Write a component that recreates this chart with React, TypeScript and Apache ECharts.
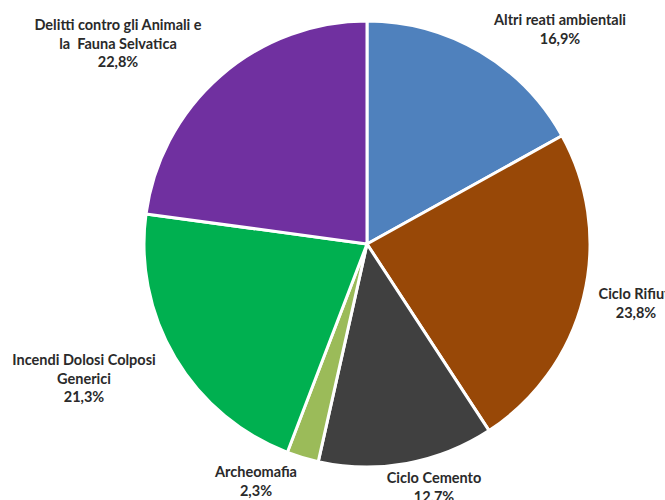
import React, { useEffect, useRef } from "react";
import * as echarts from "echarts";

const categories = [
  "Altri reati ambientali",
  "Ciclo Rifiuti",
  "Ciclo Cemento",
  "Archeomafia",
  "Incendi Dolosi Colposi\nGenerici",
  "Delitti contro gli Animali e\nla  Fauna Selvatica",
];
const values = [16.9, 23.8, 12.7, 2.3, 21.3, 22.8];
const colors = ["#4F81BD", "#984807", "#404040", "#9BBB59", "#00B050", "#7030A0"];
const labelPos: [number, number][] = [
  [560, 29],
  [636, 303],
  [434, 487],
  [256, 481],
  [84, 378],
  [118, 43],
];

export default function App() {
  const ref = useRef<HTMLDivElement>(null);
  useEffect(() => {
    if (!ref.current) return;
    const chart = echarts.init(ref.current, undefined, { renderer: "svg" });
    chart.setOption({
      animation: false,
      backgroundColor: "#ffffff",
      series: [
        {
          type: "pie",
          center: [367, 244],
          radius: 223,
          startAngle: 90,
          clockwise: true,
          data: categories.map((c, i) => ({
            name: c,
            value: values[i],
            itemStyle: { color: colors[i] },
          })),
          itemStyle: { borderColor: "#ffffff", borderWidth: 3 },
          label: {
            show: true,
            position: "outside",
            formatter: (p: any) =>
              p.name + "\n" + Number(p.value).toFixed(1).replace(".", ",") + "%",
            fontFamily: "Lato",
            fontWeight: "bold",
            fontSize: 14.5,
            lineHeight: 18.5,
            color: "#2a2a2a",
            align: "center",
            overflow: "none",
            width: 300,
          },
          labelLine: { show: false },
          labelLayout: (p: any) => ({
            x: labelPos[p.dataIndex][0],
            y: labelPos[p.dataIndex][1],
            align: "center",
            verticalAlign: "middle",
            hideOverlap: false,
          }),
          emphasis: { disabled: true },
        },
      ],
    });
    return () => chart.dispose();
  }, []);
  return (
    <div
      ref={ref}
      style={{ position: "fixed", left: 0, top: 0, width: 665, height: 500 }}
    />
  );
}
